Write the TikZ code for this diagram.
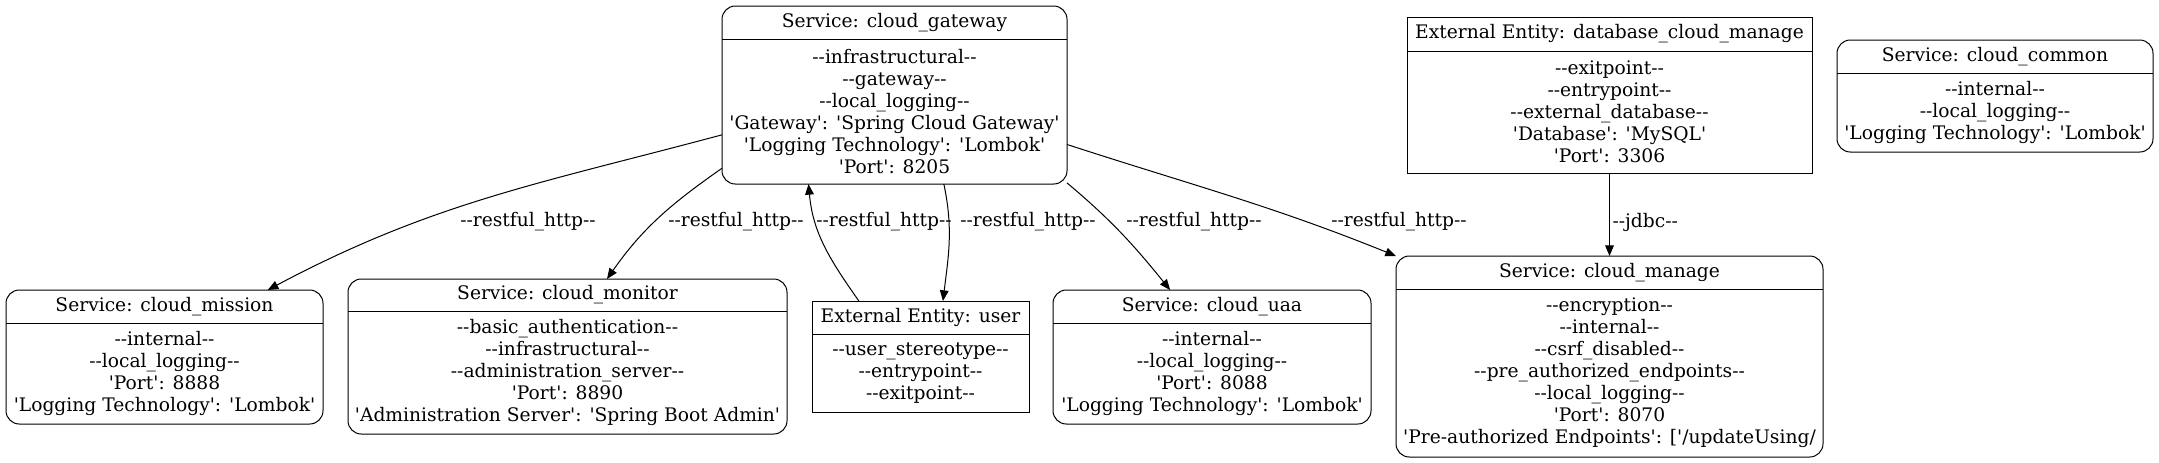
\documentclass[tikz,border=0pt]{standalone}
\usepackage{fontspec}
\usepackage{tikz}
\usetikzlibrary{arrows.meta}
\newfontfamily\dfdfont{DejaVu Serif}
\newcommand{\dfdtext}{\dfdfont\fontsize{14}{16.5}\selectfont}
% style, name, x1, y1, x2, y2, header line, title, body
\newcommand{\dfdbox}[9]{%
    \node[#1, minimum width={(#5-#3)*0.75pt}, minimum height={(#6-#4)*0.75pt}] (#2) at ({(#3+#5)/2}, {(#4+#6)/2}) {};
    \draw (#2.west |- 0,#7) -- (#2.east |- 0,#7);
    \node (#2-title) at ({(#3+#5)/2}, {(#4+#7)/2}) {#8};
    \node[align=center] (#2-body) at ({(#3+#5)/2}, {(#7+#6)/2}) {#9};
}

\begin{document}
\begin{tikzpicture}[x=0.75pt, y=-0.75pt, line width=0.75pt,
    every node/.style={font=\dfdtext},
    svc/.style={draw, rounded corners=10pt, inner sep=0pt, outer sep=0pt},
    ext/.style={draw, inner sep=0pt, outer sep=0pt},
    flow/.style={-{Triangle[length=8pt, width=6.5pt]}},
    lbl/.style={inner sep=0pt}]
    \useasboundingbox (0, 0) rectangle (2159, 462);

    % Top row
    \dfdbox{svc}{gateway}{722}{6}{1067}{184}{39}{Service: cloud\_gateway}
        {--infrastructural--\\--gateway--\\--local\_logging--\\'Gateway': 'Spring Cloud Gateway'\\'Logging Technology': 'Lombok'\\'Port': 8205}
    \dfdbox{ext}{database}{1407}{17}{1812}{173}{51}{External Entity: database\_cloud\_manage}
        {--exitpoint--\\--entrypoint--\\--external\_database--\\'Database': 'MySQL'\\'Port': 3306}
    \dfdbox{svc}{common}{1837}{40}{2153}{152}{73}{Service: cloud\_common}
        {--internal--\\--local\_logging--\\'Logging Technology': 'Lombok'}

    % Bottom row
    \dfdbox{svc}{mission}{6}{290}{323}{424}{323}{Service: cloud\_mission}
        {--internal--\\--local\_logging--\\'Port': 8888\\'Logging Technology': 'Lombok'}
    \dfdbox{svc}{monitor}{348}{279}{787}{434}{311}{Service: cloud\_monitor}
        {--basic\_authentication--\\--infrastructural--\\--administration\_server--\\'Port': 8890\\'Administration Server': 'Spring Boot Admin'}
    \dfdbox{ext}{user}{812}{301}{1029}{412}{334}{External Entity: user}
        {--user\_stereotype--\\--entrypoint--\\--exitpoint--}
    \dfdbox{svc}{uaa}{1053}{290}{1371}{424}{323}{Service: cloud\_uaa}
        {--internal--\\--local\_logging--\\'Port': 8088\\'Logging Technology': 'Lombok'}
    \dfdbox{svc}{manage}{1396}{256}{1823}{457}{289}{Service: cloud\_manage}
        {--encryption--\\--internal--\\--csrf\_disabled--\\--pre\_authorized\_endpoints--\\--local\_logging--\\'Port': 8070\\'Pre-authorized Endpoints': ['/updateUsing/}

    % Flows
    \draw[flow] (gateway.193) to[out=195, in=28] (mission.33);
    \draw[flow] (gateway.203) to[out=215, in=55] (monitor.63);
    \draw[flow] (user.138) to[out=125, in=-85] (gateway.226);
    \draw[flow] (gateway.299) to[out=-78, in=83] (user.68);
    \draw[flow] (gateway.333) to[out=-40, in=129] (uaa.122);
    \draw[flow] (gateway.344) to[out=-18, in=158] (manage.north west);
    \draw[flow] (database) -- (manage);

    % Labels
    \node[lbl] (l-mission) at (528, 222) {--restful\_http--};
    \node[lbl] (l-monitor) at (736, 222) {--restful\_http--};
    \node[lbl] (l-user-in) at (884, 222) {--restful\_http--};
    \node[lbl] (l-user-out) at (1028, 222) {--restful\_http--};
    \node[lbl] (l-uaa) at (1194, 222) {--restful\_http--};
    \node[lbl] (l-manage) at (1399, 222) {--restful\_http--};
    \node[lbl, anchor=west] (l-jdbc) at (1612, 222) {--jdbc--};
\end{tikzpicture}
\end{document}
